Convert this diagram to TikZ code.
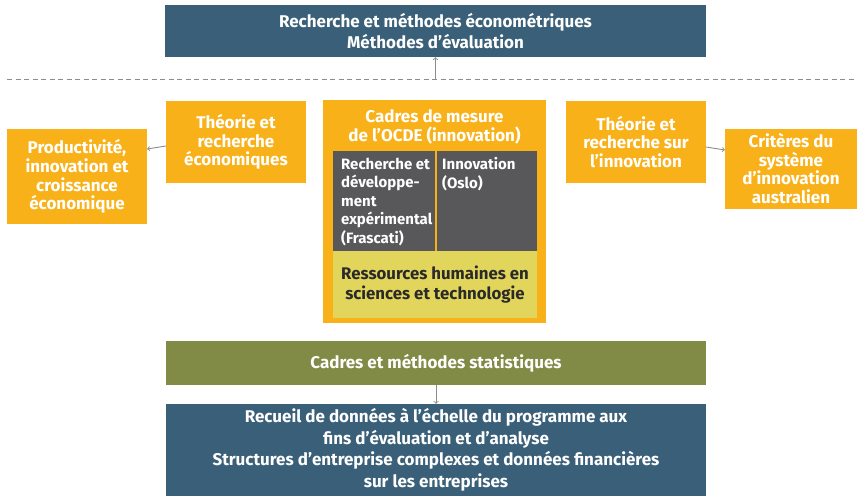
\documentclass[tikz,border=0pt]{standalone}
\usepackage{fontspec}
\setmainfont{Fira Sans}
\definecolor{oblue}{HTML}{3A5F78}
\definecolor{oorange}{HTML}{F8B119}
\definecolor{ogray}{HTML}{58585B}
\definecolor{oyellow}{HTML}{E2D55B}
\definecolor{ogreen}{HTML}{818B45}
\definecolor{oline}{HTML}{8C8C8C}
\definecolor{otext}{HTML}{2A2A2A}

\begin{document}
\begin{tikzpicture}[x=1pt,y=-1pt,
    box/.style={inner sep=0pt, text=white, align=center,
      font=\bfseries\fontsize{17}{21.5}\selectfont},
    side/.style={box, fill=oorange, font=\bfseries\fontsize{17}{18.7}\selectfont},
    pane/.style={inner sep=0pt, fill=ogray},
    conn/.style={->, draw=oline, line width=0.9pt}]
  \useasboundingbox (0,0) rectangle (857,496);

  \node[box, fill=oblue, minimum width=541pt, minimum height=52pt] (METH) at (435.5, 31)
    {Recherche et méthodes économétriques\\Méthodes d’évaluation};
  \draw[oline, line width=1pt, dash pattern=on 5pt off 3.5pt] (7, 79.5) -- (857, 79.5);
  \coordinate (LINE) at (435.5, 79.5);

  \node[side, minimum width=140pt, minimum height=95pt] (PROD) at (77, 176.5)
    {Productivité,\\innovation et\\croissance\\économique};
  \node[side, minimum width=140pt, minimum height=82pt] (THEO) at (236, 142)
    {Théorie et\\recherche\\économiques};
  \node[side, minimum width=140pt, minimum height=82pt] (THIN) at (636, 142)
    {Théorie et\\recherche sur\\l’innovation};
  \node[side, minimum width=132pt, minimum height=80pt] (CRIT) at (791, 168.5)
    {Critères du\\système\\d’innovation\\australien};

  \node[side, minimum width=223pt, minimum height=223pt] (OCDE) at (434.5, 211.5) {};
  \node[box, anchor=north, font=\bfseries\fontsize{17}{19}\selectfont] (OCDET) at (434.5, 109)
    {Cadres de mesure\\de l’OCDE (innovation)};
  \node[pane, minimum width=102pt, minimum height=100pt] (RD) at (384, 201) {};
  \node[pane, minimum width=100pt, minimum height=100pt] (INNO) at (487, 201) {};
  \node[box, anchor=north west, align=left, font=\bfseries\fontsize{15}{18.5}\selectfont] (RDT) at (341, 157.5)
    {Recherche et\\développe-\\ment\\expérimental\\(Frascati)};
  \node[box, anchor=north west, align=left, font=\bfseries\fontsize{15}{18.5}\selectfont] (INNOT) at (442, 157.5)
    {Innovation\\(Oslo)};
  \node[box, fill=oyellow, text=otext, minimum width=204pt, minimum height=67pt,
    font=\bfseries\fontsize{16.8}{20}\selectfont] (RHST) at (435, 284.5)
    {Ressources humaines en\\sciences et technologie};

  \node[box, fill=ogreen, minimum width=540pt, minimum height=44pt] (STAT) at (436, 363)
    {Cadres et méthodes statistiques};
  \node[box, fill=oblue, minimum width=540pt, minimum height=92pt] (DATA) at (436, 450)
    {Recueil de données à l’échelle du programme aux\\fins d’évaluation et d’analyse\\Structures d’entreprise complexes et données financières\\sur les entreprises};

  \draw[conn] (LINE) -- (METH.south);
  \draw[conn] ([yshift=-4pt]THEO.west) -- ([yshift=27.5pt]PROD.east);
  \draw[conn] ([yshift=-5pt]THIN.east) -- ([yshift=18.5pt]CRIT.west);
  \draw[conn] (STAT.south) -- (DATA.north);
\end{tikzpicture}
\end{document}
